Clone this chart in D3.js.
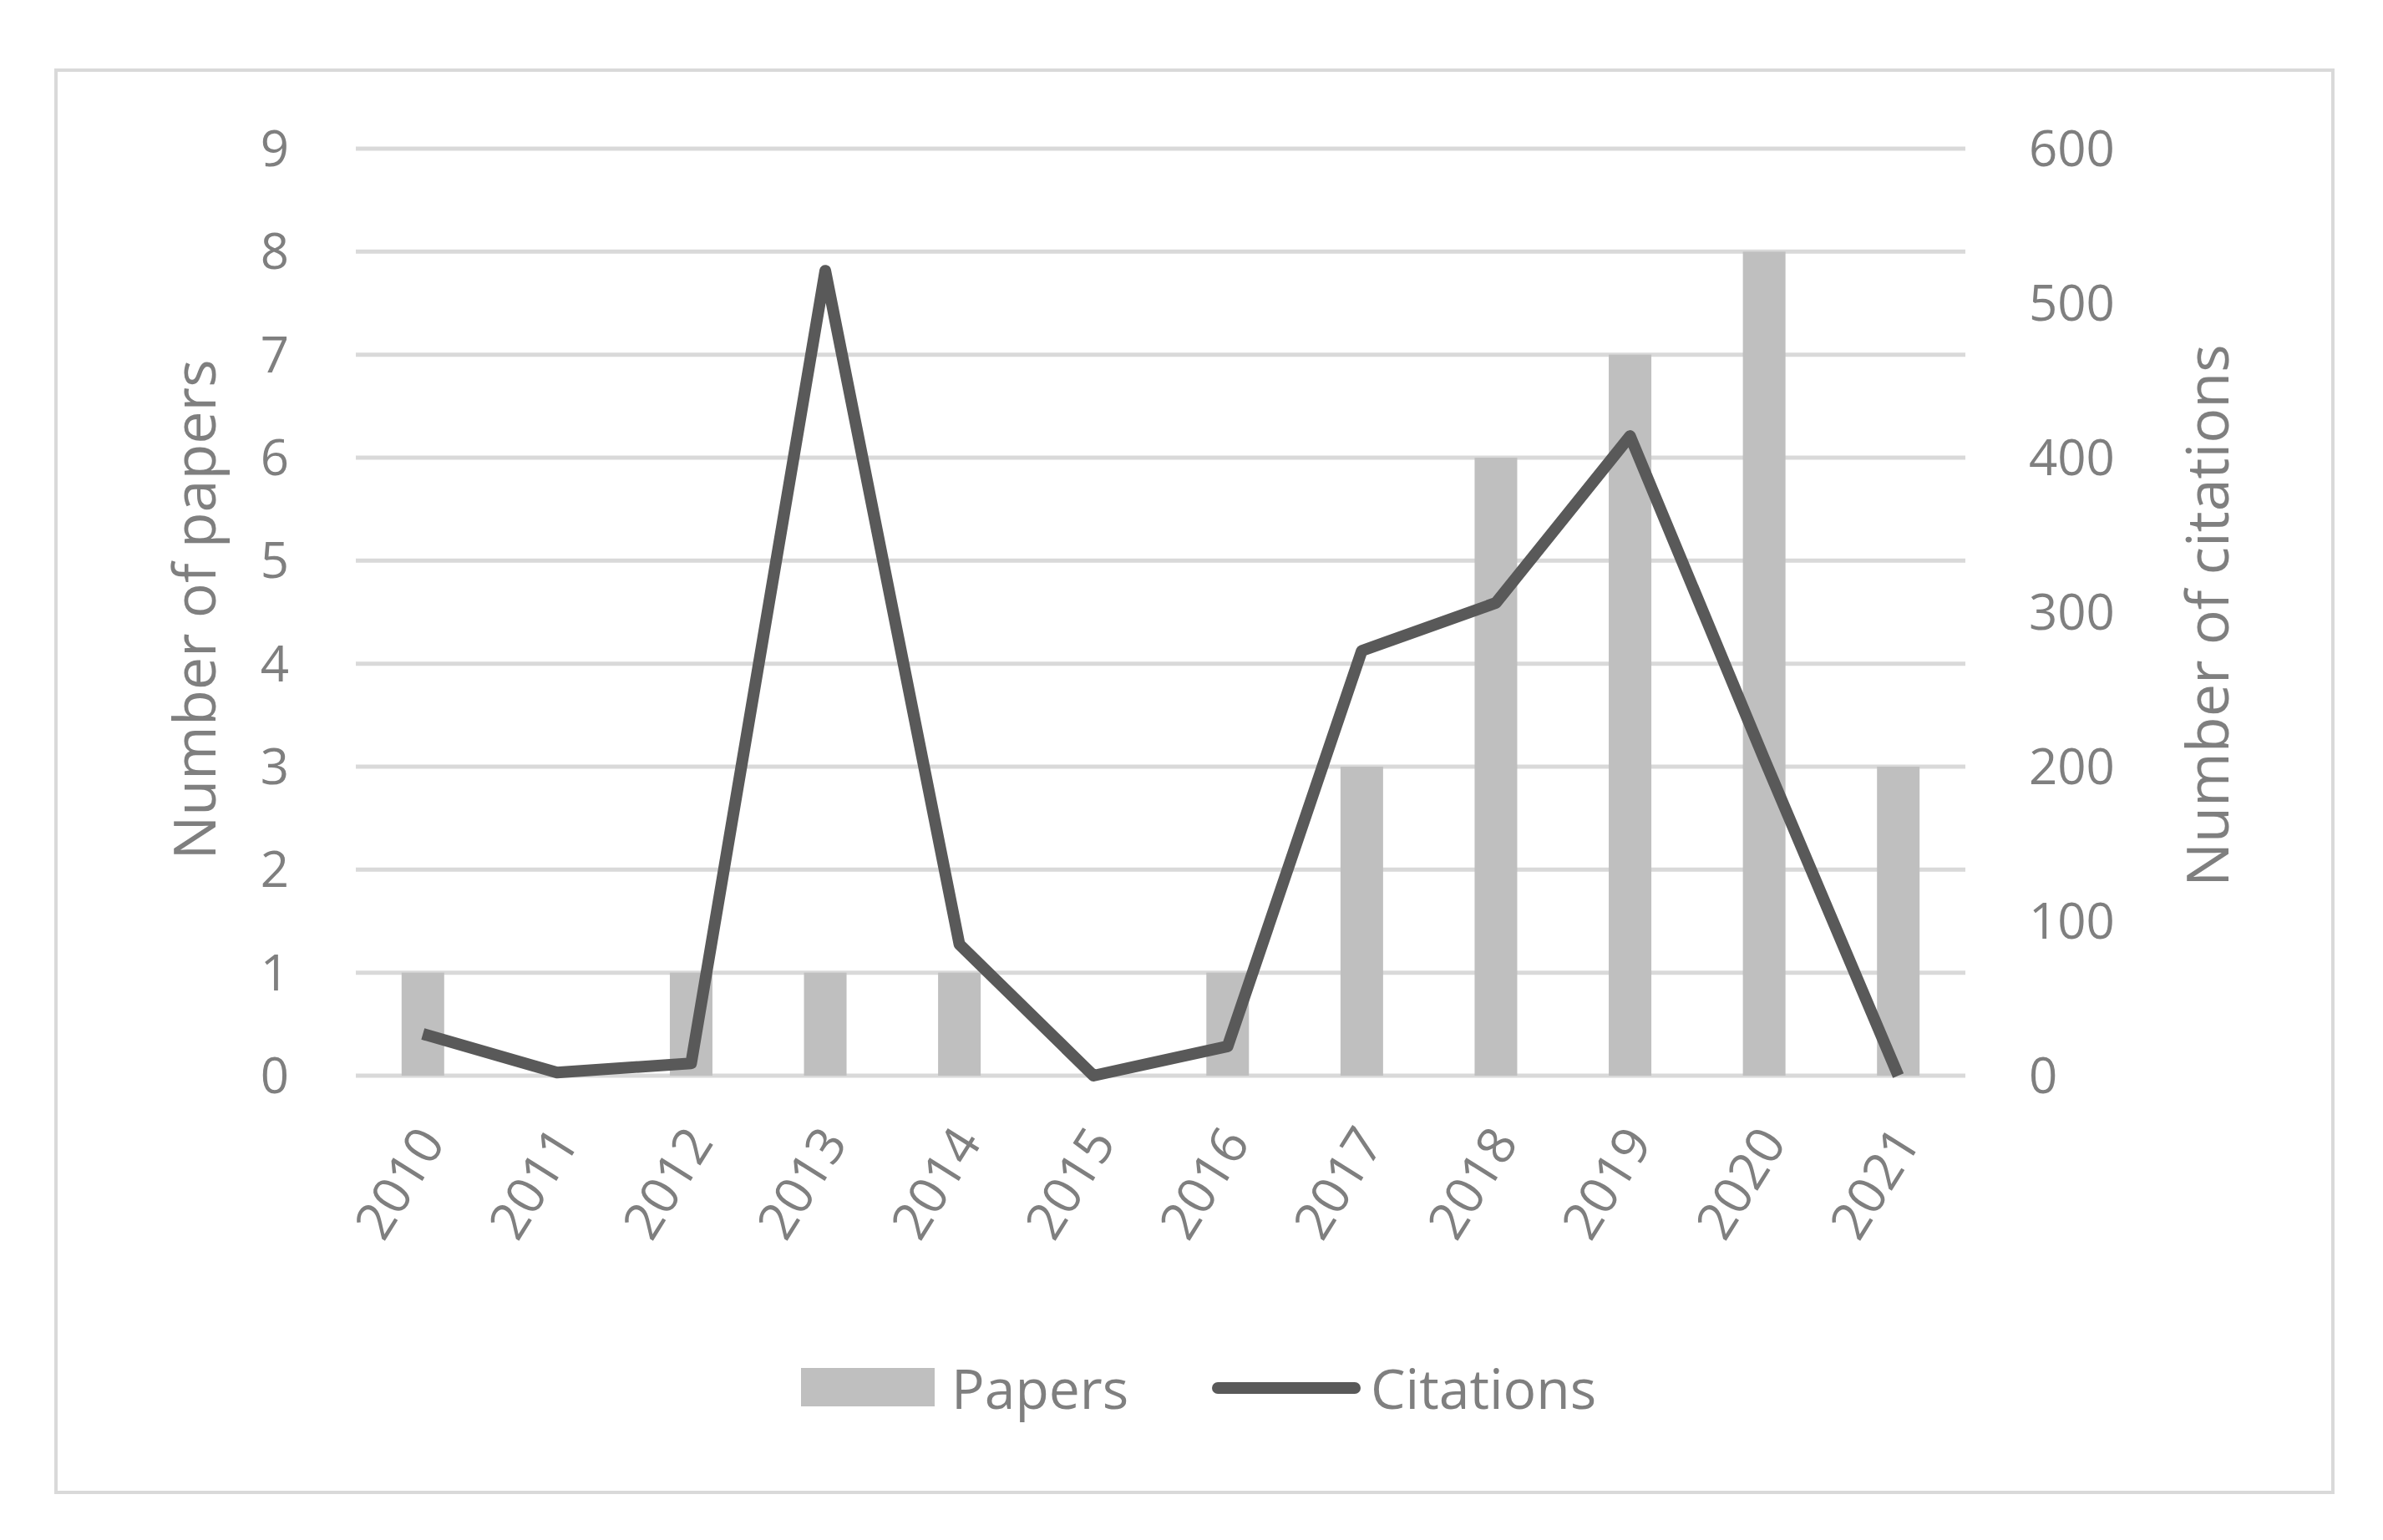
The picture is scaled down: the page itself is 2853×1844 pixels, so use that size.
<!DOCTYPE html><html><head><meta charset="utf-8"><script src="https://cdn.jsdelivr.net/npm/d3@7"></script>
<style>body{margin:0;background:#fff}text{font-family:"Open Sans",sans-serif;fill:#7f7f7f}</style></head><body>
<svg id="c" width="2853" height="1844"></svg>
<script>
const years=["2010","2011","2012","2013","2014","2015","2016","2017","2018","2019","2020","2021"];
const papers=[1,0,1,1,1,0,1,3,6,7,8,3];
const citations=[27,2,8,521,85,0,19,275,306,414,205,0];
const leftTicks=[0,1,2,3,4,5,6,7,8,9];
const rightTicks=[0,100,200,300,400,500,600];
const svg=d3.select("#c");
svg.append("rect").attr("x",67).attr("y",84).attr("width",2726).attr("height",1703).attr("fill","#fff").attr("stroke","#d9d9d9").attr("stroke-width",4);
const L=426,R=2353,T=178,B=1288;
const x=d3.scaleBand().domain(years).range([L,R]);
const yl=d3.scaleLinear().domain([0,9]).range([B,T]);
const yr=d3.scaleLinear().domain([0,600]).range([B,T]);
svg.append("g").selectAll("line").data(leftTicks).join("line").attr("x1",L).attr("x2",R).attr("y1",d=>yl(d)).attr("y2",d=>yl(d)).attr("stroke","#d9d9d9").attr("stroke-width",5);
svg.append("g").selectAll("text").data(leftTicks).join("text").attr("x",346).attr("y",d=>yl(d)+21).attr("text-anchor","end").attr("font-size",60).text(d=>d);
svg.append("g").selectAll("text").data(rightTicks).join("text").attr("x",2429).attr("y",d=>yr(d)+21).attr("font-size",60).text(d=>d);
const bw=51;
svg.append("g").selectAll("rect").data(papers).join("rect").attr("x",(d,i)=>x(years[i])+x.bandwidth()/2-bw/2).attr("width",bw).attr("y",d=>yl(d)).attr("height",d=>B-yl(d)).attr("fill","#bfbfbf");
svg.append("path").datum(citations).attr("fill","none").attr("stroke","#595959").attr("stroke-width",14).attr("stroke-linejoin","round")
 .attr("d",d3.line().x((d,i)=>x(years[i])+x.bandwidth()/2).y(d=>yr(d)));
svg.append("g").selectAll("text").data(years).join("text").attr("font-size",62).attr("text-anchor","end")
 .attr("transform",d=>`translate(${x(d)+x.bandwidth()/2+28},1368) rotate(-58)`).text(d=>d);
svg.append("text").attr("transform","translate(258,730) rotate(-90)").attr("text-anchor","middle").attr("font-size",70).text("Number of papers");
svg.append("text").attr("transform","translate(2668,737) rotate(-90)").attr("text-anchor","middle").attr("font-size",70).text("Number of citations");
svg.append("rect").attr("x",959).attr("y",1638).attr("width",160).attr("height",46).attr("fill","#bfbfbf");
svg.append("text").attr("x",1139).attr("y",1687).attr("font-size",66).text("Papers");
svg.append("line").attr("x1",1458).attr("x2",1622).attr("y1",1662).attr("y2",1662).attr("stroke","#595959").attr("stroke-width",14).attr("stroke-linecap","round");
svg.append("text").attr("x",1641).attr("y",1687).attr("font-size",66).text("Citations");
</script></body></html>
